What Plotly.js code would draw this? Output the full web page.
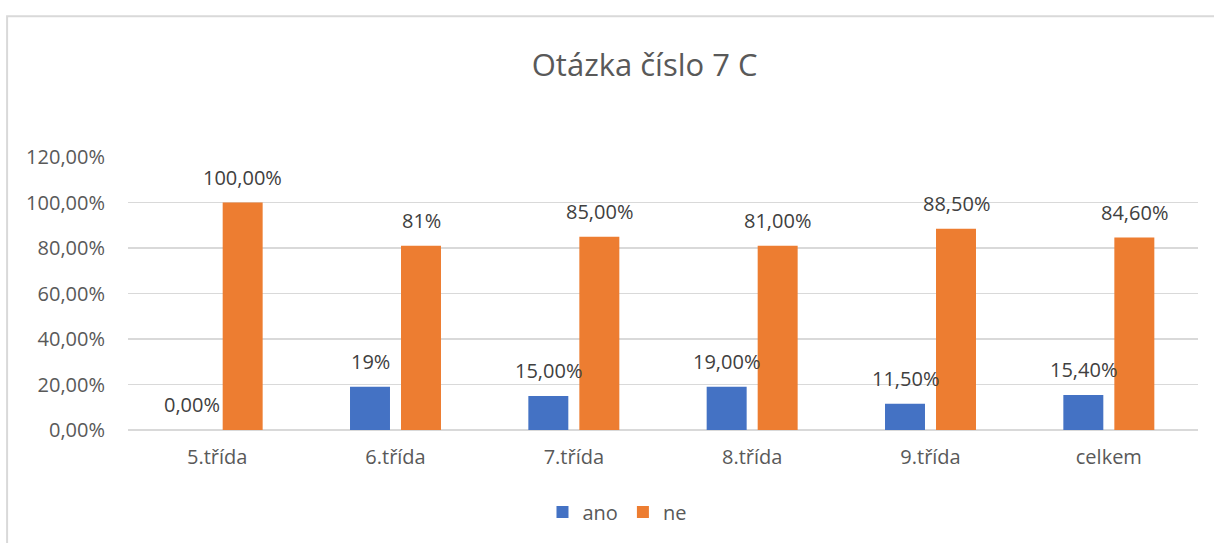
<!DOCTYPE html>
<html><head><meta charset="utf-8">
<script src="https://cdn.plot.ly/plotly-3.0.1.min.js"></script>
<style>html,body{margin:0;padding:0;background:#fff}</style>
</head><body>
<div id="chart" style="width:1214px;height:543px"></div>
<script>
const categories = ["5.třída", "6.třída", "7.třída", "8.třída", "9.třída", "celkem"];
const anoValues = [0.0, 0.19, 0.15, 0.19, 0.115, 0.154];
const neValues = [1.0, 0.81, 0.85, 0.81, 0.885, 0.846];
const anoLabels = ["0,00%", "19%", "15,00%", "19,00%", "11,50%", "15,40%"];
const neLabels = ["100,00%", "81%", "85,00%", "81,00%", "88,50%", "84,60%"];
const yTickVals = [0, 0.2, 0.4, 0.6, 0.8, 1.0, 1.2];
const yTickText = ["0,00%", "20,00%", "40,00%", "60,00%", "80,00%", "100,00%", "120,00%"];

const FONT = "Open Sans, Noto Sans, sans-serif";
const traces = [
  {type: "bar", name: "ano", x: categories, y: anoValues, marker: {color: "#4472C4"}, hoverinfo: "skip"},
  {type: "bar", name: "ne", x: categories, y: neValues, marker: {color: "#ED7D31"}, hoverinfo: "skip"}
];

const annotations = [];
function addLabels(vals, labels, shift) {
  categories.forEach((c, i) => {
    annotations.push({x: c, y: vals[i], text: labels[i], showarrow: false, xref: "x", yref: "y",
      xanchor: "center", yanchor: "bottom", xshift: shift, yshift: 10,
      font: {family: FONT, size: 20, color: "#404040"}});
  });
}
addLabels(anoValues, anoLabels, -25.5);
addLabels(neValues, neLabels, 25.5);

const layout = {
  width: 1214, height: 543,
  margin: {l: 128, r: 16, t: 157, b: 111},
  paper_bgcolor: "#ffffff", plot_bgcolor: "#ffffff",
  font: {family: FONT, color: "#595959"},
  title: {text: "Otázka číslo 7 C", x: 0.531, xanchor: "center", y: 0.88, yanchor: "middle",
    font: {family: FONT, size: 31, color: "#595959"}},
  barmode: "group", bargap: 0.428, bargroupgap: 0.216,
  xaxis: {type: "category", showgrid: false, zeroline: false, showline: false, ticks: "",
    ticklabelstandoff: 13, tickfont: {family: FONT, size: 20, color: "#595959"}, fixedrange: true},
  yaxis: {range: [0, 1.2], tickvals: yTickVals, ticktext: yTickText, showgrid: true,
    gridcolor: "#d9d9d9", gridwidth: 1.5, zeroline: true, zerolinecolor: "#d9d9d9", zerolinewidth: 1.5,
    showline: false, ticks: "", ticklabelstandoff: 22,
    tickfont: {family: FONT, size: 20, color: "#595959"}, fixedrange: true},
  showlegend: true,
  legend: {orientation: "h", x: 0.457, xanchor: "center", y: -0.30, yanchor: "middle",
    font: {family: FONT, size: 20, color: "#595959"}, itemwidth: 30, traceorder: "normal"},
  annotations: annotations,
  shapes: [{type: "rect", xref: "paper", yref: "paper", x0: -0.113, x1: 1.05, y0: -0.6, y1: 1.516,
    line: {color: "#d9d9d9", width: 2}, fillcolor: "rgba(0,0,0,0)", layer: "below"}]
};

Plotly.newPlot("chart", traces, layout, {displayModeBar: false, staticPlot: true});
</script>
</body></html>
